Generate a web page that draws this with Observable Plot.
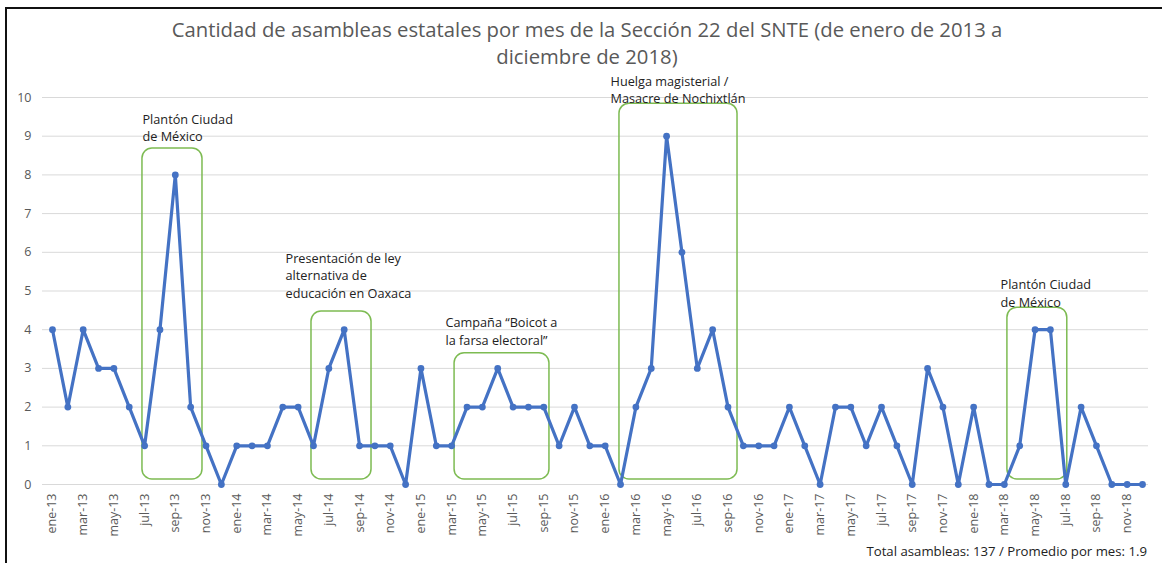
<!DOCTYPE html>
<html>
<head>
<meta charset="utf-8">
<script src="https://cdn.jsdelivr.net/npm/d3@7"></script>
<script src="https://cdn.jsdelivr.net/npm/@observablehq/plot@0.6"></script>
<style>
  html, body { margin: 0; padding: 0; background: #fff; }
  #wrap { position: relative; width: 1162px; height: 563px; overflow: hidden; font-family: "Open Sans", sans-serif; }
  #frame { position: absolute; left: 5px; top: 7px; right: -10px; bottom: -10px; border-top: 2.5px solid #111; border-left: 2.5px solid #111; pointer-events: none; }
  #title { height: 72px; box-sizing: border-box; padding-top: 16px; padding-left: 12px; text-align: center; color: #595959; font-family: "Open Sans", sans-serif; font-size: 20.3px; line-height: 27px; }
  #chart svg { display: block; }
  #caption { height: 21px; text-align: right; padding-right: 15px; color: #222; font-size: 13.2px; line-height: 18px; }
</style>
</head>
<body>
<div id="wrap">
  <div id="frame"></div>
  <div id="title">Cantidad de asambleas estatales por mes de la Sección 22 del SNTE (de enero de 2013 a<br>diciembre de 2018)</div>
  <div id="chart"></div>
  <div id="caption">Total asambleas: 137 / Promedio por mes: 1.9</div>
</div>
<script>
// Months: ene-13 ... dic-18
const monthNames = ["ene","feb","mar","abr","may","jun","jul","ago","sep","oct","nov","dic"];
const years = ["13","14","15","16","17","18"];
const months = years.flatMap(y => monthNames.map(m => `${m}-${y}`));

// Number of state assemblies per month
const values = [
  4,2,4,3,3,2,1,4,8,2,1,0,   // 2013
  1,1,1,2,2,1,3,4,1,1,1,0,   // 2014
  3,1,1,2,2,3,2,2,2,1,2,1,   // 2015
  1,0,2,3,9,6,3,4,2,1,1,1,   // 2016
  2,1,0,2,2,1,2,1,0,3,2,0,   // 2017
  2,0,0,1,4,4,0,2,1,0,0,0    // 2018
];

const yTicks = [0,1,2,3,4,5,6,7,8,9,10];
const xTicks = d3.range(0, months.length, 2);

// Highlight boxes (month-index span, value span)
const boxStart = [5.86, 16.87, 26.19, 36.93, 62.2];
const boxEnd   = [9.77, 20.78, 32.37, 44.62, 66.1];
const boxTop   = [8.68, 4.47, 3.39, 9.84, 4.57];
const boxBottom = 0.13;

// Annotations
const noteText = [
  "Plantón Ciudad\nde México",
  "Presentación de ley\nalternativa de\neducación en Oaxaca",
  "Campaña “Boicot a\nla farsa electoral”",
  "Huelga magisterial /\nMasacre de Nochixtlán",
  "Plantón Ciudad\nde México"
];
const noteX = [5.86, 15.18, 25.6, 36.35, 61.75];
const noteY = [9.64, 6.05, 4.39, 10.62, 5.37];

const data = values.map((v, i) => ({i, month: months[i], v}));
const boxes = boxStart.map((s, k) => ({x1: s, x2: boxEnd[k], y1: boxBottom, y2: boxTop[k]}));
const notes = noteText.map((t, k) => ({t, x: noteX[k], y: noteY[k]}));

const blue = "#4472c4";
const green = "#7dbb52";

const plot = Plot.plot({
  width: 1162,
  height: 470,
  marginTop: 25,
  marginBottom: 58,
  marginLeft: 42,
  marginRight: 14,
  style: {fontFamily: "'Open Sans', sans-serif", background: "transparent", overflow: "visible"},
  x: {domain: [-0.651, 71.39], axis: null},
  y: {domain: [0, 10], axis: null},
  marks: [
    Plot.ruleY(yTicks, {stroke: "#d9d9d9", strokeWidth: 1}),
    Plot.axisY(yTicks, {tickSize: 0, tickPadding: 11, fontSize: 12.5, color: "#595959", label: null}),
    Plot.axisX(xTicks, {tickSize: 0, tickPadding: 9, tickRotate: -90, fontSize: 12.5, color: "#595959", label: null,
      tickFormat: i => months[i]}),
    Plot.rect(boxes, {x1: "x1", x2: "x2", y1: "y1", y2: "y2", stroke: green, strokeWidth: 1.5, fill: "none", rx: 10}),
    Plot.line(data, {x: "i", y: "v", stroke: blue, strokeWidth: 3.2, strokeLinejoin: "round"}),
    Plot.dot(data, {x: "i", y: "v", r: 3.4, fill: blue, stroke: "none"}),
    Plot.text(notes, {x: "x", y: "y", text: "t", textAnchor: "start", lineAnchor: "top", lineHeight: 1.38,
      fontSize: 12.7, fill: "#222"})
  ]
});
document.getElementById("chart").appendChild(plot);
</script>
</body>
</html>
